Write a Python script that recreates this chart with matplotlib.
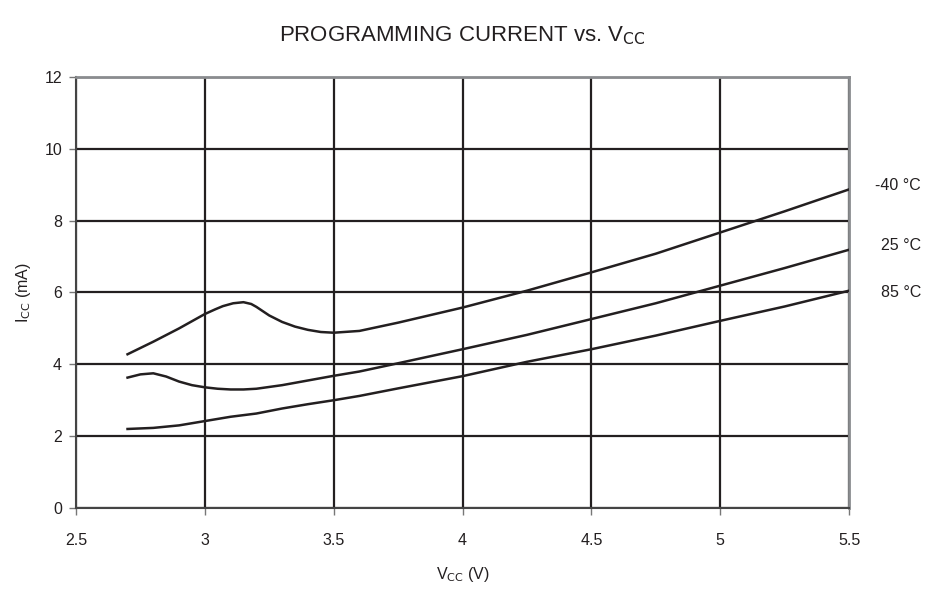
import matplotlib
matplotlib.use("Agg")
import matplotlib.pyplot as plt

plt.rcParams['font.family'] = ['Liberation Sans', 'DejaVu Sans']

# supply voltage (V) and programming current (mA)
vcc_m40 = [2.7, 2.8, 2.9, 3.0, 3.04, 3.07, 3.11, 3.15, 3.18, 3.2, 3.25, 3.3, 3.35, 3.4, 3.45,
           3.5, 3.6, 3.75, 4.0, 4.25, 4.5, 4.75, 5.0, 5.25, 5.5]
icc_m40 = [4.28, 4.63, 5.0, 5.40, 5.53, 5.62, 5.70, 5.73, 5.68, 5.60, 5.36, 5.18, 5.05, 4.96, 4.90,
           4.88, 4.93, 5.16, 5.58, 6.05, 6.56, 7.08, 7.67, 8.26, 8.87]

vcc_25 = [2.7, 2.75, 2.8, 2.85, 2.9, 2.95, 3.0, 3.05, 3.1, 3.15, 3.2, 3.3, 3.4, 3.5, 3.6,
          3.75, 4.0, 4.25, 4.5, 4.75, 5.0, 5.25, 5.5]
icc_25 = [3.63, 3.72, 3.75, 3.66, 3.52, 3.42, 3.36, 3.32, 3.30, 3.30, 3.32, 3.42, 3.55, 3.68, 3.80,
          4.03, 4.42, 4.82, 5.26, 5.70, 6.19, 6.68, 7.19]

vcc_85 = [2.7, 2.8, 2.9, 3.0, 3.1, 3.2, 3.3, 3.4, 3.5, 3.6, 3.75, 4.0, 4.25, 4.5, 4.75,
          5.0, 5.25, 5.5]
icc_85 = [2.20, 2.23, 2.30, 2.42, 2.54, 2.63, 2.77, 2.89, 3.00, 3.12, 3.33, 3.67, 4.07, 4.42, 4.80,
          5.21, 5.61, 6.05]

curve_labels = ['-40 \u00b0C', '25 \u00b0C', '85 \u00b0C']
label_y = [8.97, 7.3, 6.0]

x_ticks = [2.5, 3, 3.5, 4, 4.5, 5, 5.5]
x_tick_labels = ['2.5', '3', '3.5', '4', '4.5', '5', '5.5']
y_ticks = [0, 2, 4, 6, 8, 10, 12]

fig = plt.figure(figsize=(9.29, 5.9), dpi=100)
ax = fig.add_axes([0.0818, 0.139, 0.8321, 0.7305])

for xs, ys in ((vcc_m40, icc_m40), (vcc_25, icc_25), (vcc_85, icc_85)):
    ax.plot(xs, ys, color='#231f20', lw=1.8, solid_joinstyle='round', zorder=3)

ax.set_xlim(2.5, 5.5)
ax.set_ylim(0, 12)
ax.set_xticks(x_ticks)
ax.set_xticklabels(x_tick_labels)
ax.set_yticks(y_ticks)
ax.grid(True, color='#231f20', lw=1.6)
ax.set_axisbelow(True)

for side in ('top', 'right'):
    ax.spines[side].set_color('#8a8c8f')
    ax.spines[side].set_linewidth(2)
for side in ('left', 'bottom'):
    ax.spines[side].set_color('#444444')
    ax.spines[side].set_linewidth(1.5)

ax.tick_params(axis='both', direction='out', length=5, width=1, color='#777777',
               labelsize=11.5, labelcolor='#231f20')
ax.tick_params(axis='x', pad=13)
ax.tick_params(axis='y', pad=5)

for lab, yv in zip(curve_labels, label_y):
    ax.annotate(lab, xy=(0.9914, yv), xycoords=('figure fraction', 'data'),
                ha='right', va='center', fontsize=11.5, color='#231f20')

ax.set_xlabel('V$_{\\mathrm{CC}}$ (V)', fontsize=11.5, color='#231f20', labelpad=12)
ax.set_ylabel('I$_{\\mathrm{CC}}$ (mA)', fontsize=11.5, color='#231f20', labelpad=8)
fig.text(0.498, 0.939, 'PROGRAMMING CURRENT vs. V$_{\\mathrm{CC}}$', ha='center', va='center',
         fontsize=16, color='#231f20')

fig.savefig('out.png', dpi=100)
